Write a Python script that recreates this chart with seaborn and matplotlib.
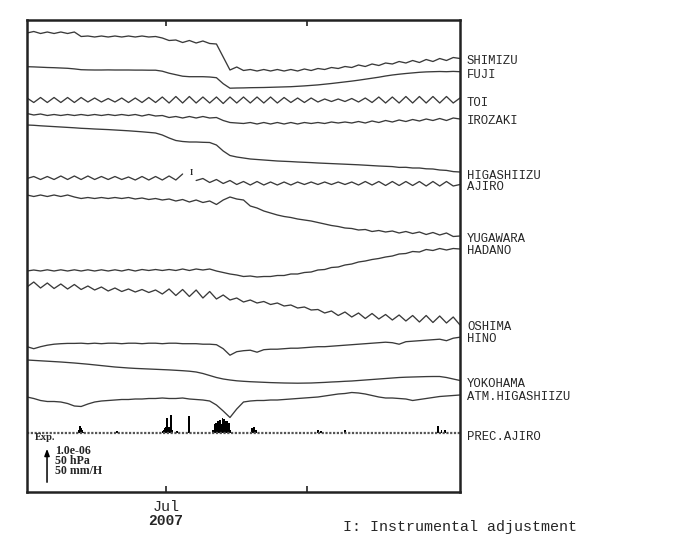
import numpy as np
import pandas as pd
import matplotlib
matplotlib.use('Agg')
import matplotlib.pyplot as plt
import matplotlib.transforms as mtransforms
import seaborn as sns

nan = np.nan

# Estaciones, de arriba hacia abajo
estaciones = ['SHIMIZU', 'FUJI', 'TOI', 'IROZAKI', 'HIGASHIIZU', 'AJIRO',
              'YUGAWARA', 'HADANO', 'OSHIMA', 'HINO', 'YOKOHAMA', 'ATM.HIGASHIIZU']

# Desviaciones (37 unidades = 1.0e-06 / 50 hPa), positivo hacia abajo
shimizu = [0, -1.5, 0.5, -1, 0.5, -1, 0.5, -1,
           3.5, 3, 4, 3, 4, 3, 4, 3, 4, 3, 4, 3.5,
           5, 7.5, 7, 9.5, 7.5, 10, 8, 10.5,
           11, 24, 37,
           34, 37.5, 36.5, 38, 36.5, 38, 36.5, 38, 36.5, 38, 36, 37.5,
           35.5, 36.5, 34.5, 35.5, 33.5, 34.5, 32, 33.5, 31, 32.5, 30,
           31, 28.5, 30, 27.5, 29.5, 26.5, 28.5, 25.5, 27.5, 24.5, 25.5]
fuji = [0, 0.2, 0.5, 0.8, 1, 1.3, 1.6, 2.2,
        3, 3.2, 3.3, 3.3, 3.2, 3.3, 3.3, 3.3, 3.4, 3.4, 3.5, 3.5,
        4.5, 6.5, 8, 9.5, 10, 10, 10, 10.3,
        11, 17, 21.5,
        21.3, 21.2, 21, 20.9, 20.8, 20.6, 20.4, 20.2, 20, 19.6, 19.2, 18.7,
        18.2, 17.5, 16.8, 16, 15.2, 14.4, 13.5, 12.5, 11.5, 10.5, 9.3,
        8.3, 7.5, 6.8, 6.2, 5.6, 5.2, 5, 4.8, 5, 4.7, 5]
toi = [-2, 2.5, -2.5, 2.5, -2.5, 2.5, -2.5, 2.5,
       -2.5, 2, -2, 2, -1.5, 2, -2, 2.5, -2, 2.5, -2.5, 2.5,
       -3, 3, -3.5, 3, -3.5, 3, -3, 3,
       -3, 3.5, -3,
       3, -3, 3, -3, 3, -3, 3, -2.5, 2.5, -2, 2.5, -2,
       2, -1, 1.5, -1, 1.5, -1.5, 2, -2, 2.5, -3, 3,
       -3, 3, -3.5, 3, -3.5, 3, -3.5, 3, -3.5, 3, -2]
irozaki = [0, 1.5, 0.5, 2, 1, 2, 1, 2,
           1, 2, 1, 2, 1, 2, 1, 2, 1, 2.5, 1, 2.5,
           2, 4, 3, 4.5, 3, 4.5, 3, 4.5,
           4, 7, 9,
           9.5, 10, 9, 10.5, 9, 10.5, 9, 10.5, 9, 10.5, 9, 10,
           9, 10, 8.5, 9.5, 8.5, 9.5, 8, 9.5, 7.5, 9, 7,
           8.5, 6.5, 8, 6, 7.5, 5.5, 7, 5, 7, 4.5, 5.5]
higashiizu = [0, 0.3, 0.8, 1.2, 1.6, 2, 2.4, 2.8,
              3.3, 3.6, 4, 4.3, 4.6, 5, 5.4, 5.8, 6.3, 6.8, 7.4, 8,
              10, 13, 15.5, 16.5, 17, 17, 17.3, 17.5,
              20, 26, 30.5,
              32, 33, 34, 34.5, 35, 35.5, 36, 36.3, 36.6, 37, 37.3, 37.6,
              38, 38.3, 38.6, 38.9, 39.2, 39.5, 39.8, 40.2, 40.6, 41, 41.3,
              41.6, 42.4, 42.3, 43, 43, 43.8, 44, 45, 45.4, 46.6, 47]
ajiro = [0, -2, 1, -2, 1, -2.5, 1, -2.5,
         1, -2.5, 1, -2, 1, -2, 1, -1.5, 1.5, -2, 1.5, -2,
         1.5, -2.5, 1.5, -4.5, nan, 2, 0, 4,
         1, 5, 2,
         6, 3, 6.5, 3, 6.5, 3.5, 6.5, 3.5, 6.5, 3.5, 6, 3.5,
         6, 3.5, 6, 3.5, 6, 3.5, 6.5, 3, 6.5, 3, 7,
         3, 7, 3, 7, 3, 7.5, 3, 7.5, 3, 7.5, 6]
yugawara = [0, 1.5, 0, 1.5, 0, 1.5, 0, 2,
            3.5, 2.5, 3.5, 2.5, 3.5, 2.5, 3.5, 2.5, 4, 3, 4.5, 3.5,
            5, 4, 6, 4.5, 7, 5, 7.5, 6,
            9.5, 5, 2,
            4, 5, 11, 13, 16, 18, 20, 21.5, 22.5, 24, 25, 26,
            27.5, 29, 30.5, 31.5, 33, 33.5, 35, 34.5, 36.5, 35.5, 37,
            36, 38, 36.5, 38.5, 37, 39.5, 37.5, 40, 38, 41.5, 41]
hadano = [0, -1, 0, -1.2, 0, -1.2, 0, -1.2,
          0, -1.2, 0, -1.2, 0, -1.2, 0, -1.5, 0, -1.5, -0.5, -1.5,
          -0.5, -1.5, -0.5, -2, -0.5, -2, -1, -2,
          0, 1.5, 3,
          4, 5.5, 5, 6, 5.5, 5.5, 4.5, 4.5, 3, 3, 1.5, 1,
          -1, -1.5, -3.5, -4, -6, -7, -9, -10, -11.5, -12.5, -14,
          -15, -17, -17.5, -19.5, -19, -21.5, -20.5, -22.5, -21, -22.5, -22]
oshima = [0, -5, 1, -4, 1.5, -3, 2, -2.5,
          2.5, -1, 3, 0, 4, 1, 4.5, 2, 5, 2.5, 5.5, 3,
          7, 2, 8.5, 2.5, 9.5, 3, 11, 4.5,
          12, 8, 13,
          11, 15, 13, 16, 14.5, 17.5, 16, 19, 18, 21, 20, 23,
          22.5, 26, 24, 28.5, 25, 30, 26, 31.5, 26.5, 32, 27.5,
          33, 28, 34, 28.5, 35, 28.5, 35.5, 29, 36, 30, 38]
hino = [0, 2, 0, -1.5, -2.5, -3, -3.3, -3.3,
        -3.5, -3, -3.5, -3, -3.5, -3.5, -3, -3.5, -3.5, -3, -3.5, -3.5,
        -3, -3.5, -3.5, -3, -3, -3, -2.5, -2.5,
        -2, 2, 8.5,
        5, 4, 3.5, 5.5, 3, 2.5, 2.5, 2, 1.5, 1.5, 1, 0.5,
        0, 0, -0.5, -1, -1.5, -2, -2.5, -3, -3.5, -4, -4.5,
        -4, -2.5, -5, -5.5, -6, -6.5, -7, -7.5, -6, -8.5, -9.5]
yokohama = [0, 0.4, 0.8, 1.2, 1.6, 2, 2.5, 3,
            3.6, 4.2, 4.9, 5.6, 6.3, 7, 7.5, 8, 8.4, 8.7, 9, 9.3,
            9.6, 9.9, 10.3, 10.7, 11.2, 12, 13.5, 15.5,
            17.5, 19, 20,
            20.8, 21.3, 21.7, 22, 22.3, 22.6, 22.8, 23, 23.1, 23.2, 23.1, 23,
            22.7, 22.4, 22, 21.7, 21.3, 21, 20.5, 20, 19.5, 19, 18.5,
            18, 17.5, 17.2, 17, 16.8, 16.6, 16.5, 16.5, 17.5, 19, 20.5]
atm_higashiizu = [0, 1.5, 3.5, 4.5, 4.5, 5, 6.5, 9,
                  9.5, 7, 5, 4, 3.5, 3, 2.5, 2.5, 2, 2, 1.5, 1.5,
                  1, 1.5, 1.5, 1, 2, 2.5, 3, 4,
                  8, 14, 20.5,
                  12, 5, 4, 3.5, 3.5, 3, 3, 2.5, 2, 1.5, 1, 0.5,
                  0, -1, -2, -3, -3.5, -4.5, -4, -3, -1.5, 0, 1,
                  1, 1.5, 2, 3.5, 2.5, 1.5, 0.5, -0.5, -1, -1.5, -2]

# Precipitacion en Ajiro (dias desde 16 jun, mm/H)
prec_dia = [5.74, 5.85, 5.95, 6.06, 6.27, 9.78,
            14.68, 14.79, 14.89, 15.0, 15.1, 15.21, 15.31, 15.42, 15.53, 15.63, 16.17,
            17.44,
            20.0, 20.11, 20.21, 20.32, 20.43, 20.53, 20.64, 20.74, 20.85, 20.96, 21.06,
            21.17, 21.28, 21.38, 21.49, 21.59, 21.7, 21.81,
            24.15, 24.36, 24.57, 31.17, 31.49, 34.04, 43.93, 44.26, 44.68]
prec_mm = [4, 10, 6.5, 4, 2, 3.5,
           2.5, 5, 6.5, 8, 21, 8, 9, 6.5, 25, 5, 2.5,
           23,
           4, 8, 12, 14, 10.5, 16, 17, 18.5, 13, 20.5, 18.5,
           20, 12, 16, 17, 9, 14.5, 5,
           6.5, 8, 4, 5, 2.5, 5, 10.5, 4, 4]

# Disposicion vertical (posicion de cada traza y de su etiqueta)
bases = [33, 66.7, 100, 113.5, 125, 178.5, 195, 271, 287, 346.7, 360, 397]
base_prec = 433.3
etiqueta_y = [60.5, 74.5, 103, 121.5, 176, 187.5, 238.5, 251.5, 327, 339.5, 384, 397, 436.5]
escala = 37  # unidades para 1.0e-06 / 50 hPa / 50 mm/H

inicio = pd.Timestamp('2007-06-16')
xmin, xmax = 0.21, 46.27
dias = np.linspace(xmin, xmax, 65)

series = [shimizu, fuji, toi, irozaki, higashiizu, ajiro,
          yugawara, hadano, oshima, hino, yokohama, atm_higashiizu]

partes = []
for nombre, base, vals in zip(estaciones, bases, series):
    vals = np.array(vals, dtype=float)
    pieza = np.cumsum(np.isnan(vals))
    partes.append(pd.DataFrame({'dia': dias, 'y': base + vals,
                                'pieza': [f'{nombre}-{p}' for p in pieza]}))
df = pd.concat(partes).dropna()

sns.set_style('white')
plt.rcParams['font.family'] = ['Liberation Mono', 'DejaVu Sans']

fig = plt.figure(figsize=(7, 5.5), dpi=100)
ax = fig.add_axes([27 / 700, 58 / 550, 433 / 700, 472 / 550])

sns.lineplot(data=df, x='dia', y='y', units='pieza', estimator=None, sort=False,
             color='#3a3a3a', linewidth=0.95, ax=ax)

# Lluvia
ax.axhline(base_prec, color='#555555', lw=1.6, ls=(0, (1, 0.7)))
ax.bar(prec_dia, -np.array(prec_mm) * escala / 50, bottom=base_prec, width=0.12,
       color='black', linewidth=0)

ax.set_xlim(xmin, xmax)
ax.set_ylim(492, 20)
ax.set_xlabel('')
ax.set_ylabel('')
ax.set_yticks([])

jul1 = (pd.Timestamp('2007-07-01') - inicio).days
jul16 = (pd.Timestamp('2007-07-16') - inicio).days
ax.set_xticks([jul1, jul16])
ax.set_xticklabels(['Jul', ''], fontsize=10.8, family='Liberation Mono')
ax.tick_params(axis='x', direction='in', top=True, bottom=True, length=4, width=1.2,
               pad=5.5, color='#222222')
for s in ax.spines.values():
    s.set_linewidth(1.8)
    s.set_color('#222222')

ax.text(jul1, 521, '2007', ha='center', va='center', fontsize=10.5, fontweight='bold',
        family='Liberation Mono', clip_on=False)

# Etiquetas de estaciones
trans = mtransforms.blended_transform_factory(ax.transAxes, ax.transData)
for nombre, yy in zip(estaciones + ['PREC.AJIRO'], etiqueta_y):
    ax.text(1.016, yy, nombre, transform=trans, ha='left', va='center',
            fontsize=8.8, family='Liberation Mono', clip_on=False)

# Marca de ajuste instrumental
ax.text(17.66, 173, 'I', ha='center', va='center', fontsize=6, fontweight='bold',
        family='Liberation Serif')

# Escala
ax.annotate('', xy=(2.34, 446), xytext=(2.34, 485),
            arrowprops=dict(arrowstyle='-|>,head_width=0.15,head_length=0.4', color='black', lw=1.1))
ax.text(1.0, 437.5, 'Exp.', ha='left', va='center', fontsize=7.5, fontweight='bold',
        family='Liberation Serif')
ax.text(3.2, 444.5, '1.0e-06\n50 hPa\n50 mm/H', ha='left', va='top', fontsize=8.6,
        fontweight='bold', family='Liberation Serif', linespacing=0.82)

fig.text(343 / 700, 1 - 527 / 550, 'I: Instrumental adjustment', ha='left', va='center',
         fontsize=10.8, family='Liberation Mono')

fig.savefig('out.png', dpi=100)
